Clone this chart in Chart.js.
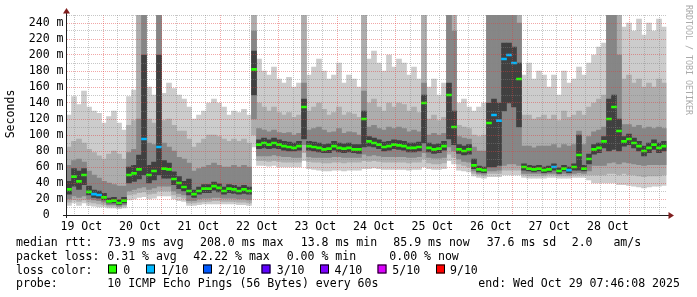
<!DOCTYPE html>
<html><head><meta charset="utf-8">
<script src="https://cdn.jsdelivr.net/npm/chart.js@4.4.1/dist/chart.umd.min.js"></script>
<style>html,body{margin:0;padding:0;background:#fff;}canvas{display:block}</style>
</head><body>
<canvas id="c" width="697" height="297"></canvas>
<script>
// ---- data (2-hour columns starting 19 Oct 09:00) ----
const startHour = 9;      // hours after 19 Oct 00:00
const colHours = 2;
const dayLabels = ['19 Oct','20 Oct','21 Oct','22 Oct','23 Oct','24 Oct','25 Oct','26 Oct','27 Oct','28 Oct'];

// smoke envelopes (ms), outer to inner
const hiA = [125,148,138,155,135,130,127,115,123,130,115,106,148,156,250,250,160,150,250,152,165,158,150,145,
             135,120,125,130,140,145,140,135,125,130,128,132,125,250,195,180,175,185,170,165,172,160,165,250,
             175,185,195,180,170,175,190,165,175,170,160,250,195,205,190,180,200,185,195,190,175,185,170,250,
             160,170,150,165,250,250,140,145,135,130,135,140,250,250,250,250,250,250,250,175,190,170,180,175,
             160,175,150,180,165,170,185,175,190,200,210,215,250,250,250,235,240,230,245,225,240,230,245,235];
const hiB = [85,92,95,90,82,78,74,70,76,80,76,70,112,118,250,250,120,115,250,118,120,112,105,105,
             95,85,90,95,100,100,98,95,92,95,92,95,90,250,140,135,130,135,128,125,128,122,125,250,
             130,135,140,132,125,128,135,125,128,126,122,250,140,145,135,130,140,135,140,138,130,135,128,250,
             120,125,118,122,250,250,112,110,108,100,98,100,250,250,250,250,250,250,250,125,125,120,122,125,
             120,125,118,130,122,125,130,125,135,140,145,150,250,250,250,170,175,165,170,160,165,160,170,165];
const hiC = [62,68,70,66,55,50,46,42,40,38,36,36,78,82,120,250,90,88,250,90,85,80,72,70,
             65,55,58,60,62,65,62,60,60,62,60,62,60,230,108,106,104,106,103,102,103,100,102,165,
             106,108,110,106,103,104,108,102,104,103,100,155,110,112,108,106,110,108,110,108,104,106,104,165,
             100,102,100,102,250,230,98,96,95,85,80,80,250,250,250,250,250,250,240,86,86,84,86,86,
             86,88,84,88,86,88,105,88,98,104,106,110,250,250,200,113,113,110,112,108,110,108,110,108];
const hiD = [42,58,55,58,36,31,30,27,21,22,19,22,60,62,75,200,62,66,200,68,65,54,48,42,
             45,31,35,38,38,41,39,35,38,37,35,37,35,205,94,96,94,96,94,92,91,90,92,145,
             92,91,90,88,89,92,90,89,90,88,88,130,98,96,94,91,92,94,93,92,90,90,91,150,
             90,88,89,92,165,130,88,86,88,70,61,60,140,145,140,215,215,210,190,64,62,61,62,60,
             61,64,59,62,60,64,100,62,76,88,90,98,145,150,120,98,101,96,92,86,90,94,90,92];
const median = [32,48,42,50,29,26,25,22,17,18,15,18,50,52,57,95,50,55,85,58,57,45,40,35,
                30,26,30,33,33,36,34,30,33,32,30,32,30,182,88,90,88,90,88,86,85,84,86,135,
                86,85,84,82,83,86,84,83,84,82,82,120,92,90,88,85,86,88,87,86,84,84,85,140,
                84,82,83,86,150,110,82,80,82,62,57,56,115,125,118,195,200,190,170,60,58,57,58,56,
                57,60,55,58,56,60,75,58,70,82,84,92,120,135,105,92,95,90,86,80,84,88,84,86];
const loD = [26,36,32,38,25,22,21,19,15,15,13,15,40,42,45,50,40,44,50,46,46,38,33,30,
             25,22,26,28,28,31,29,26,28,27,26,27,26,150,83,84,83,84,83,81,80,80,81,95,
             81,80,79,78,78,81,79,78,79,78,77,85,86,85,83,80,81,83,82,81,79,79,80,90,
             79,77,78,81,95,88,77,75,76,58,54,53,60,60,62,130,140,135,110,56,55,54,55,53,
             54,56,52,55,53,56,56,55,64,76,78,84,80,82,80,86,88,84,80,74,78,82,78,80];
const loC = [20,24,22,24,20,19,18,16,13,13,11,13,30,32,34,35,32,34,36,36,36,30,27,25,
             18,18,20,21,21,22,22,21,21,21,20,20,19,120,74,74,74,75,74,73,73,72,72,88,
             73,72,72,72,72,73,73,72,72,72,72,76,74,75,74,73,73,73,73,73,72,72,73,78,
             72,71,71,72,85,80,70,67,66,55,52,51,55,55,56,62,64,64,62,52,52,52,52,51,
             52,52,51,52,51,52,53,52,55,62,62,62,65,66,64,66,65,64,63,62,63,63,63,63];
const loB = [16,19,17,19,16,15,14,13,11,11,10,11,25,26,28,29,26,27,30,30,30,25,23,21,
             15,15,16,17,17,18,18,17,17,17,16,16,15,100,68,68,67,68,67,66,66,66,66,78,
             67,66,66,65,65,66,66,65,66,66,66,68,67,68,67,66,66,66,66,66,65,66,66,70,
             65,64,64,65,76,72,64,62,60,52,50,49,52,52,52,56,56,56,56,50,49,49,49,49,
             50,50,49,49,49,50,50,50,50,50,50,50,52,52,50,52,50,50,49,48,49,49,49,50];
const loA = [12,15,12,15,12,11,10,10,9,9,8,9,19,20,22,23,20,21,24,24,24,20,18,17,
             12,12,13,14,14,14,14,14,14,14,13,13,12,85,62,62,61,62,60,60,60,60,60,68,
             58,57,56,55,55,56,56,55,56,56,56,58,58,59,58,57,57,57,57,57,56,57,57,60,
             58,57,57,58,68,64,56,55,54,49,47,46,48,48,48,50,50,50,50,47,46,46,46,46,
             47,47,46,46,46,47,47,47,44,40,40,40,40,40,38,38,37,36,35,34,35,36,36,37];
// loss bucket index of each median sample (0 = no loss, 1 = 1/10)
const lossIdx = [0,0,0,0,0,1,1,0,0,0,0,0,0,0,0,1,0,0,1,0,0,0,0,0,
                 0,0,0,0,0,0,0,0,0,0,0,0,0,0,0,0,0,0,0,0,0,0,0,0,
                 0,0,0,0,0,0,0,0,0,0,0,0,0,0,0,0,0,0,0,0,0,0,0,0,
                 0,0,0,0,0,0,0,0,0,0,0,0,0,1,1,1,1,1,0,0,0,0,0,0,
                 0,1,0,0,1,0,0,0,0,0,0,0,0,0,0,0,0,0,0,0,0,0,0,0];

// legend texts
const rttStats = ['73.9 ms avg','208.0 ms max','13.8 ms min','85.9 ms now','37.6 ms sd','2.0   am/s'];
const lossStats = ['0.31 % avg','42.22 % max','0.00 % min','0.00 % now'];
const lossLabels = ['0','1/10','2/10','3/10','4/10','5/10','9/10'];
const lossColors = ['#26ff00','#00b8ff','#0059ff','#5e00ff','#7e00ff','#dd00ff','#ff0000'];
const probeText = '10 ICMP Echo Pings (56 Bytes) every 60s';
const endText = 'end: Wed Oct 29 07:46:08 2025';

// ---- build ----
const colLabels = hiA.map((_, i) => startHour + colHours * i + colHours / 2);
const MONO = "'DejaVu Sans Mono', monospace";
const FS = 11.55;
const majorGrid = 'rgba(225,60,60,0.45)';
const minorGrid = 'rgba(130,130,130,0.45)';

const overlay = {
  id: 'overlay',
  afterDraw(chart) {
    const ctx = chart.ctx;
    const ys = chart.scales.y;
    const y0 = Math.round(ys.getPixelForValue(0)) + 0.5;
    const ax = 66.5;
    ctx.save();
    ctx.strokeStyle = '#1f1f1f';
    ctx.lineWidth = 1;
    ctx.beginPath();
    ctx.moveTo(63, y0); ctx.lineTo(669, y0);
    ctx.moveTo(ax, 218); ctx.lineTo(ax, 13);
    ctx.stroke();
    ctx.fillStyle = '#801f1f';
    ctx.beginPath();
    ctx.moveTo(ax - 3.5, 13.5); ctx.lineTo(ax + 3.5, 13.5); ctx.lineTo(ax, 8); ctx.closePath(); ctx.fill();
    ctx.beginPath();
    ctx.moveTo(668.5, y0 - 3.5); ctx.lineTo(668.5, y0 + 3.5); ctx.lineTo(674, y0); ctx.closePath(); ctx.fill();

    // axis title
    ctx.fillStyle = '#000';
    ctx.font = FS + 'px ' + MONO;
    ctx.save();
    ctx.translate(11, 114);
    ctx.rotate(-Math.PI / 2);
    ctx.textAlign = 'center'; ctx.textBaseline = 'middle';
    ctx.fillText('Seconds', 0, 0);
    ctx.restore();

    // watermark
    ctx.save();
    ctx.translate(688, 5);
    ctx.rotate(Math.PI / 2);
    ctx.font = '8.3px ' + MONO;
    ctx.fillStyle = '#aaaaaa';
    ctx.textAlign = 'left'; ctx.textBaseline = 'middle';
    ctx.fillText('RRDTOOL / TOBI OETIKER', 0, 0);
    ctx.restore();

    // legend
    ctx.textAlign = 'left'; ctx.textBaseline = 'alphabetic';
    ctx.fillStyle = '#000';
    const b1 = 246, b2 = 259.5, b3 = 273.5, b4 = 287;
    ctx.fillText('median rtt:', 16, b1);
    [107.3, 200, 300.7, 393.3, 486.7, 571.7].forEach((x, i) => ctx.fillText(rttStats[i], x, b1));
    ctx.fillText('packet loss:', 16, b2);
    [107.3, 193.3, 286.7, 389.3].forEach((x, i) => ctx.fillText(lossStats[i], x, b2));
    ctx.fillText('loss color:', 16, b3);
    const boxX = [108, 146, 203, 261.5, 320, 377.5, 436];
    const txtX = [123.3, 160.7, 218, 276.7, 334.5, 392.3, 450];
    boxX.forEach((x, i) => {
      ctx.fillStyle = lossColors[i];
      ctx.fillRect(x, 264.5, 9, 9);
      ctx.strokeStyle = '#000';
      ctx.strokeRect(x + 0.5, 265, 8, 8);
      ctx.fillStyle = '#000';
      ctx.fillText(lossLabels[i], txtX[i], b3);
    });
    ctx.fillText('probe:', 16, b4);
    ctx.fillText(probeText, 107.3, b4);
    ctx.fillText(endText, 478.3, b4);
    ctx.restore();
  }
};

const bandColors = ['#cccccc', '#adadad', '#868686', '#404040'];
const bands = [[loA, hiA], [loB, hiB], [loC, hiC], [loD, hiD]];
const datasets = bands.map((b, k) => ({
  label: 'smoke' + k,
  data: b[1].map((v, i) => [b[0][i], v]),
  backgroundColor: bandColors[k],
  order: 10 - k
}));
datasets.push({
  label: 'median',
  data: median.map(v => [v - 1.25, v + 1.25]),
  backgroundColor: lossIdx.map(k => lossColors[k]),
  order: 1
});

new Chart(document.getElementById('c'), {
  type: 'bar',
  data: { labels: colLabels, datasets },
  options: {
    responsive: false,
    animation: false,
    devicePixelRatio: 1,
    layout: { padding: { left: 0, right: 30.5, top: 15, bottom: 62 } },
    datasets: { bar: { grouped: false, barPercentage: 1, categoryPercentage: 1, borderWidth: 0 } },
    plugins: { legend: { display: false }, tooltip: { enabled: false } },
    scales: {
      x: { type: 'category', display: false },
      xt: {
        type: 'linear', position: 'bottom', min: startHour, max: startHour + colHours * hiA.length,
        afterBuildTicks: (axis) => {
          const t = [];
          for (let h = 12; h < axis.max; h += 6) t.push({ value: h });
          axis.ticks = t;
        },
        afterFit: (s) => { s.height = 20; },
        grid: { z: 1, drawTicks: false, lineWidth: 1,
          color: (c) => (c.tick && c.tick.value % 24 === 0) ? majorGrid : minorGrid },
        border: { display: false, dash: [1, 1] },
        ticks: { autoSkip: false, maxRotation: 0, minRotation: 0, padding: 5, color: '#000',
          font: { family: MONO, size: FS },
          callback: (v) => (v % 24 === 12) ? dayLabels[(v - 12) / 24] : '' }
      },
      y: {
        min: 0, max: 250,
        afterBuildTicks: (axis) => {
          const t = [];
          for (let v = 0; v <= 250; v += 10) t.push({ value: v });
          axis.ticks = t;
        },
        afterFit: (s) => { s.width = 66.5; },
        grid: { z: 1, drawTicks: false, lineWidth: 1,
          color: (c) => (c.tick && c.tick.value % 20 === 0) ? majorGrid : minorGrid },
        border: { display: false, dash: [1, 1] },
        ticks: { autoSkip: false, padding: 3, color: '#000', font: { family: MONO, size: FS },
          callback: (v) => (v % 20 === 0) ? (v === 0 ? '0  ' : v + ' m') : '' }
      }
    }
  },
  plugins: [overlay]
});
</script>
</body></html>
